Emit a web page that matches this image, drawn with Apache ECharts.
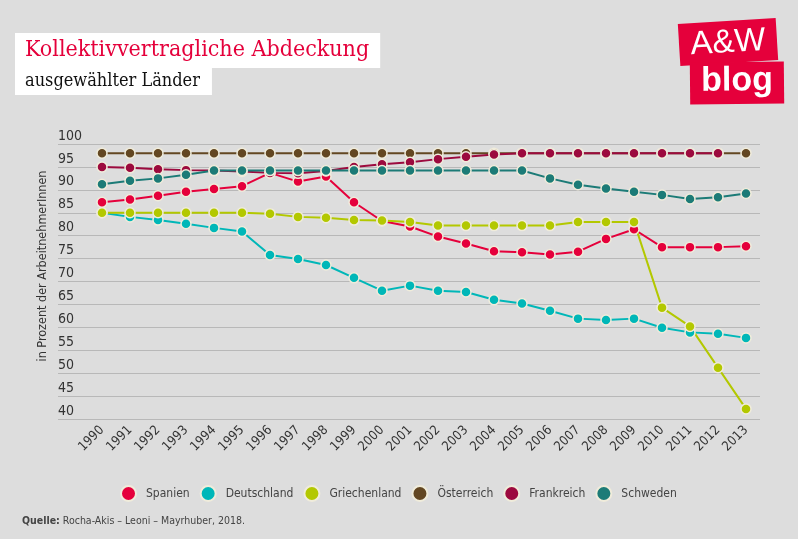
<!DOCTYPE html>
<html>
<head>
<meta charset="utf-8">
<script src="https://cdn.jsdelivr.net/npm/echarts@6/dist/echarts.min.js"></script>
<style>
html,body{margin:0;padding:0;background:#dddddd;}
#chart{width:798px;height:539px;}
</style>
</head>
<body>
<div id="chart"></div>
<script>
const years = ['1990','1991','1992','1993','1994','1995','1996','1997','1998','1999','2000','2001','2002','2003','2004','2005','2006','2007','2008','2009','2010','2011','2012','2013'];
const spanien      = [87.3,87.9,88.7,89.6,90.2,90.8,93.7,91.8,92.9,87.3,83.2,82.0,79.8,78.3,76.6,76.4,75.9,76.5,79.3,81.4,77.5,77.5,77.5,77.7];
const deutschland  = [85.0,84.1,83.4,82.6,81.7,80.9,75.8,74.9,73.6,70.8,68.0,69.1,68.0,67.7,66.0,65.2,63.6,61.9,61.6,61.9,59.9,58.9,58.6,57.7];
const griechenland = [85.0,85.0,85.0,85.0,85.0,85.0,84.8,84.1,83.9,83.4,83.3,83.0,82.2,82.2,82.2,82.2,82.2,83.0,83.0,83.0,64.3,60.2,51.2,42.2];
const oesterreich  = [98,98,98,98,98,98,98,98,98,98,98,98,98,98,98,98,98,98,98,98,98,98,98,98];
const frankreich   = [95.0,94.8,94.5,94.3,94.2,94.0,93.7,93.6,94.1,95.0,95.6,96.0,96.7,97.2,97.7,98,98,98,98,98,98,98,98,null];
const schweden     = [91.2,92.0,92.5,93.3,94.2,94.2,94.2,94.2,94.2,94.2,94.2,94.2,94.2,94.2,94.2,94.2,92.5,91.1,90.3,89.6,88.9,88.0,88.4,89.2];
const yTicks = {min:40, max:100, step:5};

const names = ['Spanien','Deutschland','Griechenland','Österreich','Frankreich','Schweden'];
const colors = ['#e5003b','#00b7b8','#b3c800','#634722','#9c0a3e','#1c7b77'];
const dataSets = [spanien, deutschland, griechenland, oesterreich, frankreich, schweden];

const FONT = '"DejaVu Sans Condensed","DejaVu Sans",sans-serif';

const chart = echarts.init(document.getElementById('chart'), null, {renderer:'canvas'});
const series = names.map((n,i)=>({
  name:n, type:'line', xAxisIndex:0, yAxisIndex:0, data:dataSets[i],
  symbol:'circle', symbolSize:10, showSymbol:true,
  lineStyle:{color:colors[i], width:2},
  itemStyle:{color:colors[i], borderColor:'#f0ecdb', borderWidth:1.5},
  emphasis:{disabled:true}, animation:false, z:2
}));

chart.setOption({
  backgroundColor:'#dddddd',
  animation:false,
  title:[
    {text:'Kollektivvertragliche Abdeckung', left:15, top:33, backgroundColor:'#ffffff', padding:[6,11,6,10],
     textStyle:{fontFamily:'"DejaVu Serif Condensed","DejaVu Serif",serif', fontWeight:'normal', fontSize:23, lineHeight:23, color:'#e5003b'}},
    {text:'ausgewählter Länder', left:15, top:68, backgroundColor:'#ffffff', padding:[4,12,4,10],
     textStyle:{fontFamily:'"DejaVu Serif Condensed","DejaVu Serif",serif', fontWeight:'normal', fontSize:18, lineHeight:19, color:'#111111'}}
  ],
  legend:{
    data:names, left:120, top:485, itemWidth:15, itemHeight:15, itemGap:10, icon:'circle', padding:0,
    textStyle:{fontFamily:FONT, fontSize:12, color:'#444444', padding:[0,0,0,5]},
    selectedMode:false
  },
  grid:[
    {left:102, right:52, top:144, bottom:120, containLabel:false},
    {left:58, right:38, top:144, bottom:120, containLabel:false}
  ],
  xAxis:[
    {gridIndex:0, type:'category', data:years, boundaryGap:false,
     axisLine:{show:false}, axisTick:{show:false}, splitLine:{show:false},
     axisLabel:{rotate:45, margin:9, fontFamily:FONT, fontSize:13, color:'#333333', interval:0}},
    {gridIndex:1, type:'value', min:0, max:1, show:false}
  ],
  yAxis:[
    {gridIndex:0, type:'value', min:yTicks.min, max:yTicks.max, interval:yTicks.step, show:false},
    {gridIndex:1, type:'value', min:yTicks.min, max:yTicks.max, interval:yTicks.step,
     axisLine:{show:false}, axisTick:{show:false},
     splitLine:{show:true, lineStyle:{color:'#b8b8b8', width:1}},
     axisLabel:{inside:true, margin:0, verticalAlign:'bottom', fontFamily:FONT, fontSize:14, lineHeight:16, padding:[0,0,0,0], color:'#333333'}}
  ],
  series:series,
  graphic:[
    {type:'text', x:43, y:266, rotation:Math.PI/2,
     style:{text:'in Prozent der ArbeitnehmerInnen', fontFamily:FONT, fontSize:12.5, fill:'#333333', align:'center', verticalAlign:'middle'}},
    {type:'text', x:22, y:521,
     style:{text:'{b|Quelle:} Rocha-Akis – Leoni – Mayrhuber, 2018.', fill:'#444444', verticalAlign:'middle',
       fontFamily:FONT, fontSize:10.5,
       rich:{b:{fontWeight:'bold', fontFamily:FONT, fontSize:10.5, fill:'#444444'}}}},
    {type:'group', x:728, y:42, rotation:0.06, children:[
      {type:'rect', shape:{x:-49, y:-21, width:98, height:42}, style:{fill:'#e5003b'}},
      {type:'text', x:0, y:1, style:{text:'A&W', font:'33px "Liberation Sans",sans-serif', fill:'#ffffff', align:'center', verticalAlign:'middle'}}
    ]},
    {type:'group', x:737, y:83, rotation:0.01, children:[
      {type:'rect', shape:{x:-47, y:-21, width:94, height:42}, style:{fill:'#e5003b'}},
      {type:'text', x:0, y:-2, style:{text:'blog', font:'bold 34px "Liberation Sans",sans-serif', fill:'#ffffff', align:'center', verticalAlign:'middle'}}
    ]}
  ]
});
</script>
</body>
</html>
